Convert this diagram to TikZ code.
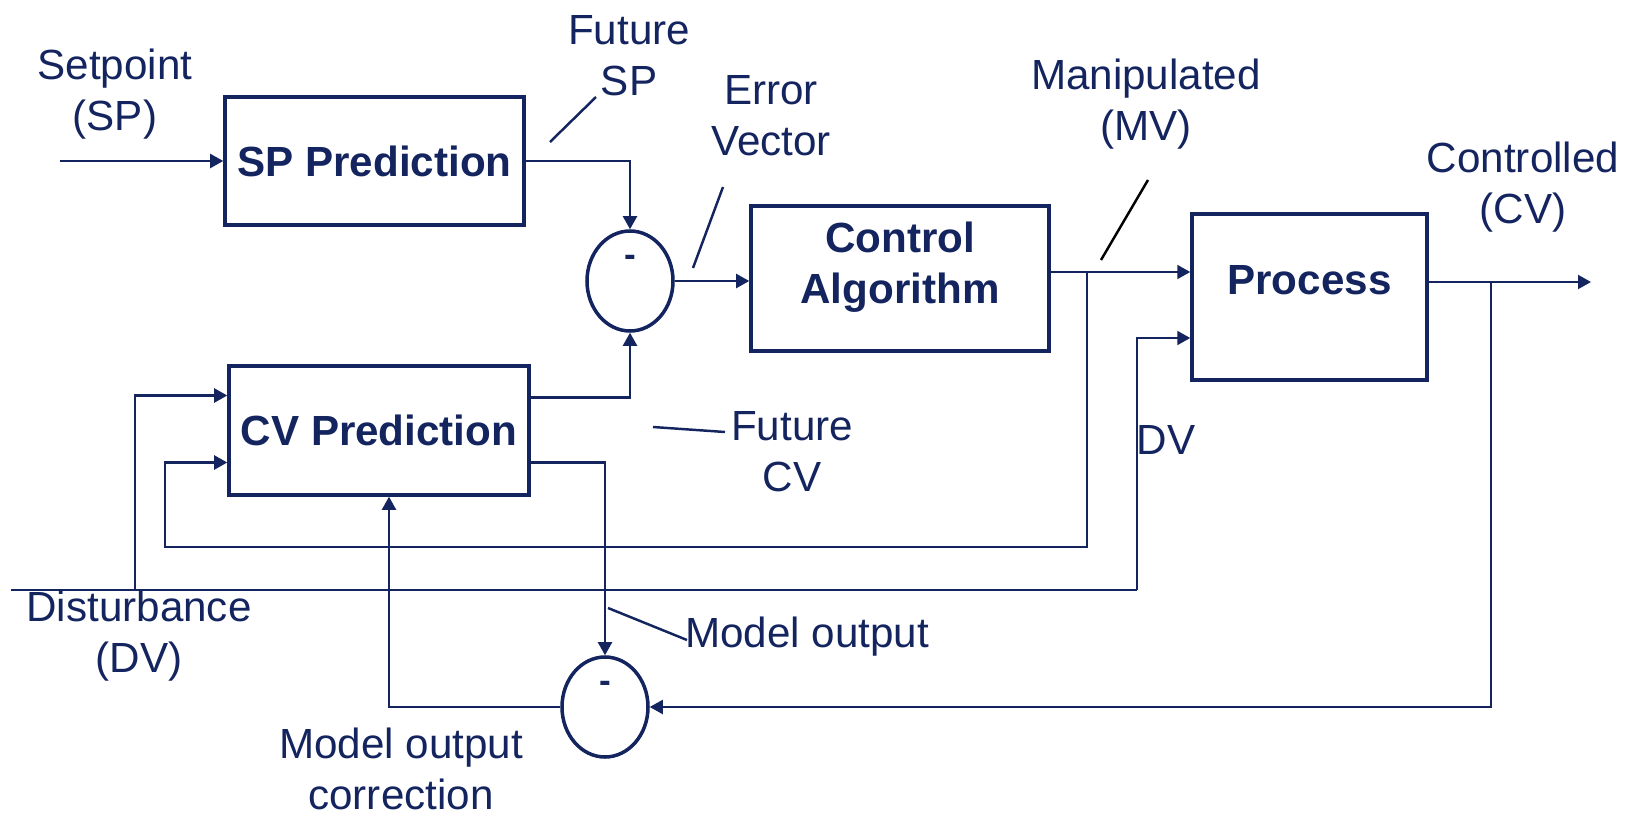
\documentclass[tikz,border=0pt]{standalone}
\usepackage{fontspec}
\setmainfont{Liberation Sans}
\usepackage{tikz}
\usetikzlibrary{arrows.meta,positioning,calc,shapes.geometric}
\definecolor{CtrlNavy}{HTML}{14245F}

\begin{document}
\begin{tikzpicture}[font=\fontsize{12}{14.5}\selectfont, >={Triangle[length=1.3mm,width=1.4mm]}, line width=0.6pt, color=CtrlNavy,
  box/.style={draw, line width=1pt, align=center, font=\fontsize{12}{14.5}\selectfont\bfseries},
  junc/.style={ellipse, draw, line width=1pt, minimum width=0.86cm, minimum height=1cm, inner sep=0pt,
    label={[font=\bfseries, yshift=2mm]center:-}},
  lab/.style={align=center},
  lead/.style={line width=0.7pt}]
\useasboundingbox (0,0) rectangle (16.33,-8.17);
% blocks
\node[box, minimum width=2.99cm, minimum height=1.28cm] (spp) at (3.745,-1.61) {SP Prediction};
\node[box, minimum width=3.00cm, minimum height=1.29cm] (cvp) at (3.79,-4.305) {CV Prediction};
\node[box, minimum width=2.98cm, minimum height=1.45cm, text depth=0.32cm] (ctrl) at (9.00,-2.785) {Control\\Algorithm};
\node[box, minimum width=2.35cm, minimum height=1.66cm, text depth=0.34cm] (proc) at (13.095,-2.97) {Process};
\node[junc] (sum1) at (6.30,-2.81) {};
\node[junc] (sum2) at (6.05,-7.07) {};
% signal points
\coordinate (spin) at (0.60,-1.61);
\coordinate (dvin) at (0.11,-5.90);
\coordinate (dvtap) at (1.35,-5.90);
\coordinate (dvup) at (11.37,-5.90);
\coordinate (mvtap) at (10.87,-2.72);
\coordinate (mvlow) at (1.65,-5.47);
\coordinate (cvtap) at (14.91,-2.82);
\coordinate (cvout) at (15.91,-2.82);
% connectors
\draw[->] (spin) -- (spp.west);
\draw[->] (spp.east) -| (sum1.north);
\draw[->] (sum1.east) -- (sum1.east -| ctrl.west);
\draw[->] (ctrl.east |- mvtap) -- (proc.west |- mvtap);
\draw[->] (proc.east |- cvtap) -- (cvout);
\draw (dvin) -- (dvup);
\draw[->] (dvtap) |- ([yshift=3.5mm]cvp.west);
\draw[->] (dvup) |- ([yshift=-4.1mm]proc.west);
\draw[->] (mvtap) |- (mvlow) |- ([yshift=-3.2mm]cvp.west);
\draw[->] ([yshift=3.3mm]cvp.east) -| (sum1.south);
\draw[->] ([yshift=-3.2mm]cvp.east) -| (sum2.north);
\draw[->] (cvtap) |- (sum2.east);
\draw[->] (sum2.west) -| ([xshift=1mm]cvp.south);
% labels
\node[lab] (setlbl) at (1.15,-0.94) {Setpoint\\(SP)};
\node[lab] (futsp) at (6.29,-0.56) {Future\\SP};
\node[lab] (errlbl) at (7.71,-1.16) {Error\\Vector};
\node[lab] (mvlbl) at (11.46,-1.04) {Manipulated\\(MV)};
\node[lab] (cvlbl) at (15.23,-1.87) {Controlled\\(CV)};
\node[lab] (dvlbl) at (11.66,-4.40) {DV};
\node[lab] (futcv) at (7.92,-4.52) {Future\\CV};
\node[lab] (molbl) at (8.07,-6.37) {Model output};
\node[lab] (dstlbl) at (1.39,-6.36) {Disturbance\\(DV)};
\node[lab] (corlbl) at (4.01,-7.69) {Model output\\correction};
% leader lines
\draw[lead] (5.50,-1.42) -- (5.96,-0.97);
\draw[lead] (6.93,-2.68) -- (7.23,-1.87);
\draw[lead, black] (11.01,-2.60) -- (11.48,-1.80);
\draw[lead] (6.53,-4.27) -- (7.25,-4.32);
\draw[lead] (6.08,-6.08) -- (6.87,-6.40);
\end{tikzpicture}
\end{document}
